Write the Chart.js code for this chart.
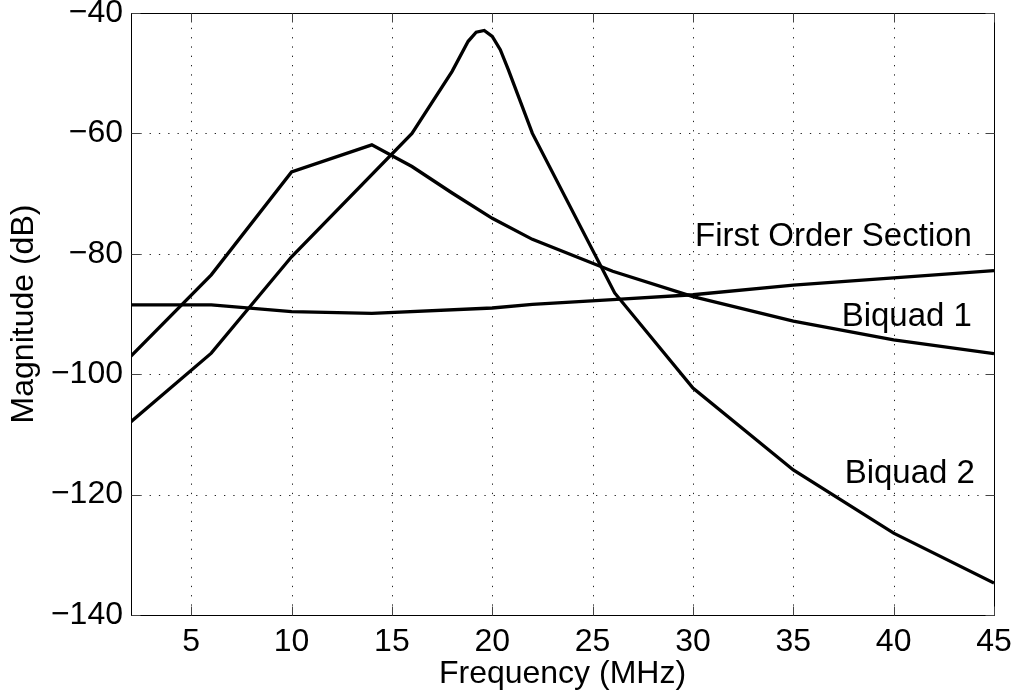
<!DOCTYPE html>
<html>
<head>
<meta charset="utf-8">
<script src="https://cdn.jsdelivr.net/npm/chart.js@4/dist/chart.umd.min.js"></script>
<style>
  html, body { margin: 0; padding: 0; background: #fff; }
  #wrap { width: 1017px; height: 695px; position: relative; }
</style>
</head>
<body>
<div id="wrap"><canvas id="c" width="1017" height="695"></canvas></div>
<script>
// ---- data ----
const freqFirstOrder = [2, 6, 10, 14, 20, 22, 26, 30, 35, 40, 45];
const magFirstOrder  = [-88.5, -88.5, -89.6, -89.9, -89.0, -88.4, -87.6, -86.8, -85.2, -84.0, -82.8];

const freqBiquad1 = [2, 6, 10, 14, 16, 18, 20, 22, 26, 30, 35, 40, 45];
const magBiquad1  = [-97.0, -83.5, -66.4, -61.9, -65.5, -69.9, -74.1, -77.6, -82.9, -87.1, -91.2, -94.3, -96.6];

const freqBiquad2 = [2, 6, 10, 16, 18, 18.8, 19.2, 19.6, 20, 20.4, 20.8, 22, 26.1, 30, 35, 40, 45];
const magBiquad2  = [-107.9, -96.5, -80.5, -60.0, -49.7, -44.7, -43.2, -42.9, -43.9, -46.1, -49.4, -60.0, -86.5, -102.3, -115.9, -126.4, -134.7];

const xTickValues = [5, 10, 15, 20, 25, 30, 35, 40, 45];
const yTickValues = [-140, -120, -100, -80, -60, -40];

const curveLabels = ['First Order Section', 'Biquad 1', 'Biquad 2'];
const curveLabelFreq = [43.9, 43.9, 44.05];
const curveLabelMag  = [-78.7, -91.95, -118.1];

function zip(xs, ys) { return xs.map((x, i) => ({ x: x, y: ys[i] })); }

const FONT = "'Liberation Sans', Arial, Helvetica, sans-serif";

const mkDataset = (label, xs, ys) => ({
  label: label,
  data: zip(xs, ys),
  borderColor: '#000',
  borderWidth: 3.3,
  pointRadius: 0,
  tension: 0,
  fill: false
});

// grid, box, inward ticks and in-plot labels
const matlabAxes = {
  id: 'matlabAxes',
  beforeDatasetsDraw(chart) {
    const { ctx, chartArea: a, scales: { x, y } } = chart;
    ctx.save();
    ctx.strokeStyle = '#222';
    ctx.lineWidth = 1;
    ctx.setLineDash([1.3, 8]);
    xTickValues.forEach(v => {
      const px = Math.round(x.getPixelForValue(v)) + 0.5;
      if (px > a.left + 1 && px < a.right - 1) {
        ctx.beginPath(); ctx.moveTo(px, a.bottom); ctx.lineTo(px, a.top); ctx.stroke();
      }
    });
    yTickValues.forEach(v => {
      const py = Math.round(y.getPixelForValue(v)) + 0.5;
      if (py > a.top + 1 && py < a.bottom - 1) {
        ctx.beginPath(); ctx.moveTo(a.left, py); ctx.lineTo(a.right, py); ctx.stroke();
      }
    });
    ctx.restore();
  },
  afterDatasetsDraw(chart) {
    const { ctx, chartArea: a, scales: { x, y } } = chart;
    ctx.save();
    ctx.setLineDash([]);
    ctx.strokeStyle = '#000';
    ctx.lineWidth = 1;
    const L = Math.round(a.left) + 0.5, R = Math.round(a.right) + 0.5;
    const T = Math.round(a.top) + 0.5, B = Math.round(a.bottom) + 0.5;
    ctx.strokeRect(L, T, R - L, B - T);
    const tl = 9;
    ctx.strokeStyle = '#444';
    xTickValues.forEach(v => {
      const px = Math.round(x.getPixelForValue(v)) + 0.5;
      ctx.beginPath(); ctx.moveTo(px, B); ctx.lineTo(px, B - tl); ctx.stroke();
      ctx.beginPath(); ctx.moveTo(px, T); ctx.lineTo(px, T + tl); ctx.stroke();
    });
    yTickValues.forEach(v => {
      const py = Math.round(y.getPixelForValue(v)) + 0.5;
      ctx.beginPath(); ctx.moveTo(L, py); ctx.lineTo(L + tl, py); ctx.stroke();
      ctx.beginPath(); ctx.moveTo(R, py); ctx.lineTo(R - tl, py); ctx.stroke();
    });
    // curve labels
    ctx.fillStyle = '#000';
    ctx.font = '33px ' + FONT;
    ctx.textAlign = 'right';
    ctx.textBaseline = 'alphabetic';
    curveLabels.forEach((t, i) => {
      ctx.fillText(t, x.getPixelForValue(curveLabelFreq[i]), y.getPixelForValue(curveLabelMag[i]));
    });
    ctx.restore();
  }
};

new Chart(document.getElementById('c'), {
  type: 'line',
  data: {
    datasets: [
      mkDataset('First Order Section', freqFirstOrder, magFirstOrder),
      mkDataset('Biquad 1', freqBiquad1, magBiquad1),
      mkDataset('Biquad 2', freqBiquad2, magBiquad2)
    ]
  },
  options: {
    responsive: false,
    animation: false,
    devicePixelRatio: 1,
    layout: { padding: { top: 13, right: 23, left: 0, bottom: 0 } },
    plugins: { legend: { display: false }, tooltip: { enabled: false } },
    scales: {
      x: {
        type: 'linear',
        min: 2, max: 45,
        grid: { display: false, drawTicks: false },
        border: { display: false },
        afterBuildTicks: s => { s.ticks = xTickValues.map(v => ({ value: v })); },
        afterFit: s => { s.height = 80; s.paddingLeft = 0; s.paddingRight = 0; },
        ticks: {
          color: '#000',
          padding: 8,
          maxRotation: 0,
          autoSkip: false,
          font: { family: FONT, size: 32, lineHeight: 1.2 },
          callback: v => String(v)
        },
        title: {
          display: true,
          text: 'Frequency (MHz)',
          color: '#000',
          font: { family: FONT, size: 32, lineHeight: 1.2 },
          padding: { top: 0, bottom: 2 }
        }
      },
      y: {
        type: 'linear',
        min: -140, max: -40,
        grid: { display: false, drawTicks: false },
        border: { display: false },
        afterBuildTicks: s => { s.ticks = yTickValues.map(v => ({ value: v })); },
        afterFit: s => { s.width = 131; s.paddingTop = 0; s.paddingBottom = 0; },
        ticks: {
          color: '#000',
          padding: 8,
          autoSkip: false,
          font: { family: FONT, size: 32, lineHeight: 1.2 },
          callback: v => (v < 0 ? '\u2212' + Math.abs(v) : String(v))
        },
        title: {
          display: true,
          text: 'Magnitude (dB)',
          color: '#000',
          font: { family: FONT, size: 32, lineHeight: 1.2 },
          padding: { top: 5, bottom: 0 }
        }
      }
    }
  },
  plugins: [matlabAxes]
});
</script>
</body>
</html>
